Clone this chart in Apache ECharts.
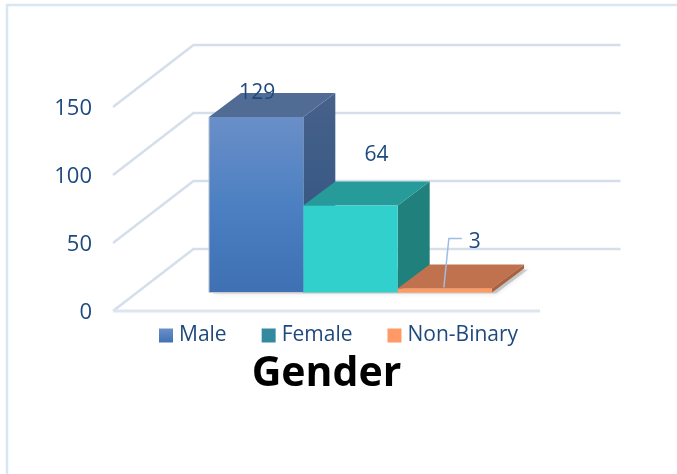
<!DOCTYPE html>
<html>
<head>
<meta charset="utf-8">
<style>
  html, body { margin: 0; padding: 0; background: #fff; }
  #chart { width: 677px; height: 474px; }
</style>
<script src="https://cdn.jsdelivr.net/npm/echarts@6/dist/echarts.min.js"></script>
</head>
<body>
<div id="chart"></div>
<script>
const categories = ["Gender"];
const seriesNames = ["Male", "Female", "Non-Binary"];
const seriesValues = [129, 64, 3];
const yTicks = [0, 50, 100, 150];

const TEXT_COLOR = "#1F497D";
const FONT = "Open Sans";
const WALL = { x: 80.5, y: -62 };
const FLOOR = { x: 24, y: -18.5 };
const DEPTH = { x: 32, y: -24 };
const BAR_SHARE = 0.221;

const vertical = (a, b, c) => ({
  type: "linear", x: 0, y: 0, x2: 0, y2: 1,
  colorStops: c
    ? [{ offset: 0, color: a }, { offset: 0.5, color: b }, { offset: 1, color: c }]
    : [{ offset: 0, color: a }, { offset: 1, color: b }],
});

const barStyles = [
  {
    legend: vertical("#6A8FC8", "#3F72B4"),
    front: vertical("#6A8FC8", "#4C80C2", "#3E70B3"),
    top: "#516C94",
    side: vertical("#47618A", "#2D5380"),
    edge: "#C6CBD3",
    label: { dx: 1, dy: -24 },
  },
  {
    legend: "#338A9F",
    front: "#32D0CC",
    top: "#269B99",
    side: "#20807C",
    label: { dx: 26, dy: -50 },
  },
  {
    legend: "#FF9966",
    front: "#FF9A63",
    top: "#C0724E",
    side: "#A8603F",
    label: { dx: 30, dy: -46 },
    leader: [[-1, -1], [4, -50], [17, -50]],
  },
];

const poly = (points, style) => ({ type: "polygon", shape: { points }, style });

const renderWall = (params, api) => {
  const sys = params.coordSys;
  const y = api.coord([0, api.value(0)])[1];
  const children = [{
    type: "polyline",
    shape: {
      points: [
        [sys.x, y],
        [sys.x + WALL.x, y + WALL.y],
        [sys.x + sys.width + WALL.x, y + WALL.y],
      ],
    },
    style: { stroke: "#D5DFEC", lineWidth: 2.5, fill: null },
  }];
  if (api.value(0) === 0) {
    children.push({
      type: "line",
      shape: { x1: sys.x, y1: y, x2: sys.x + sys.width, y2: y },
      style: { stroke: "#DCE5F0", lineWidth: 3 },
    });
  }
  return { type: "group", children };
};

const renderBar = (index) => (params, api) => {
  const style = barStyles[index];
  const base = api.coord([0, 0]);
  const head = api.coord([0, api.value(1)]);
  const w = api.size([1, 0])[0] * BAR_SHARE;
  const x0 = base[0] + FLOOR.x + (index - 1.5) * w;
  const x1 = x0 + w;
  const yb = base[1] + FLOOR.y;
  const yt = head[1] + FLOOR.y;
  const dx = DEPTH.x;
  const dy = DEPTH.y;

  const children = [
    poly([[x0 + 4, yb + 1], [x1 + 4, yb + 1], [x1 + dx + 4, yb + dy + 1], [x0 + dx + 4, yb + dy + 1]], {
      fill: "rgba(130,130,130,0.35)",
      shadowBlur: 5,
      shadowColor: "rgba(110,110,110,0.55)",
    }),
    poly([[x1, yt], [x1 + dx, yt + dy], [x1 + dx, yb + dy], [x1, yb]], { fill: style.side }),
    poly([[x0, yt], [x0 + dx, yt + dy], [x1 + dx, yt + dy], [x1, yt]], { fill: style.top }),
    {
      type: "rect",
      shape: { x: x0, y: yt, width: w, height: yb - yt },
      style: { fill: style.front },
    },
  ];

  if (style.edge) {
    children.push({
      type: "polyline",
      shape: { points: [[x1, yb], [x0, yb], [x0, yt]] },
      style: { stroke: style.edge, lineWidth: 1, fill: null },
    });
  }

  const cx = (x0 + x1) / 2;
  if (style.leader) {
    children.push({
      type: "polyline",
      shape: { points: style.leader.map((p) => [cx + p[0], yt + p[1]]) },
      style: { stroke: "#9DBDE3", lineWidth: 1.5, fill: null },
    });
  }
  children.push({
    type: "text",
    style: {
      text: String(api.value(1)),
      x: cx + style.label.dx,
      y: yt + style.label.dy,
      fill: TEXT_COLOR,
      font: `21px "${FONT}"`,
      align: "center",
      verticalAlign: "middle",
    },
  });
  return { type: "group", children };
};

const chart = echarts.init(document.getElementById("chart"), null, { renderer: "canvas" });

chart.setOption({
  animation: false,
  backgroundColor: "#fff",
  textStyle: { fontFamily: FONT },
  grid: { left: 113, right: 137, top: 107, bottom: 163 },
  graphic: [{
    type: "polyline",
    silent: true,
    shape: { points: [[7, 474], [7, 5], [677, 5]] },
    style: { stroke: "#D9E6F4", lineWidth: 2.5, fill: null },
  }],
  legend: {
    left: 159,
    top: 325,
    padding: 0,
    itemWidth: 14,
    itemHeight: 14,
    itemGap: 35,
    icon: "rect",
    selectedMode: false,
    data: seriesNames,
    textStyle: { color: TEXT_COLOR, fontSize: 21, fontFamily: FONT, padding: [0, 0, 0, 1] },
  },
  xAxis: {
    type: "category",
    data: categories,
    axisLine: { show: false },
    axisTick: { show: false },
    splitLine: { show: false },
    axisLabel: {
      color: "#000",
      fontSize: 41,
      fontWeight: "bold",
      fontFamily: FONT,
      margin: 43,
    },
  },
  yAxis: {
    type: "value",
    min: 0,
    max: 150,
    interval: 50,
    axisLine: { show: false },
    axisTick: { show: false },
    splitLine: { show: false },
    axisLabel: {
      margin: 21,
      formatter: (v) => `{tick|${v}}`,
      rich: {
        tick: { color: TEXT_COLOR, fontSize: 22, fontFamily: FONT, padding: [4, 0, 0, 0] },
      },
    },
  },
  series: [
    {
      name: "walls",
      type: "custom",
      renderItem: renderWall,
      clip: false,
      silent: true,
      encode: { y: 0 },
      data: yTicks.map((t) => [t]),
      z: 1,
    },
    ...seriesNames.map((name, i) => ({
      name,
      type: "custom",
      renderItem: renderBar(i),
      clip: false,
      encode: { x: 0, y: 1 },
      itemStyle: { color: barStyles[i].legend },
      data: [[0, seriesValues[i]]],
      z: 2 + i,
    })),
  ],
});
</script>
</body>
</html>
